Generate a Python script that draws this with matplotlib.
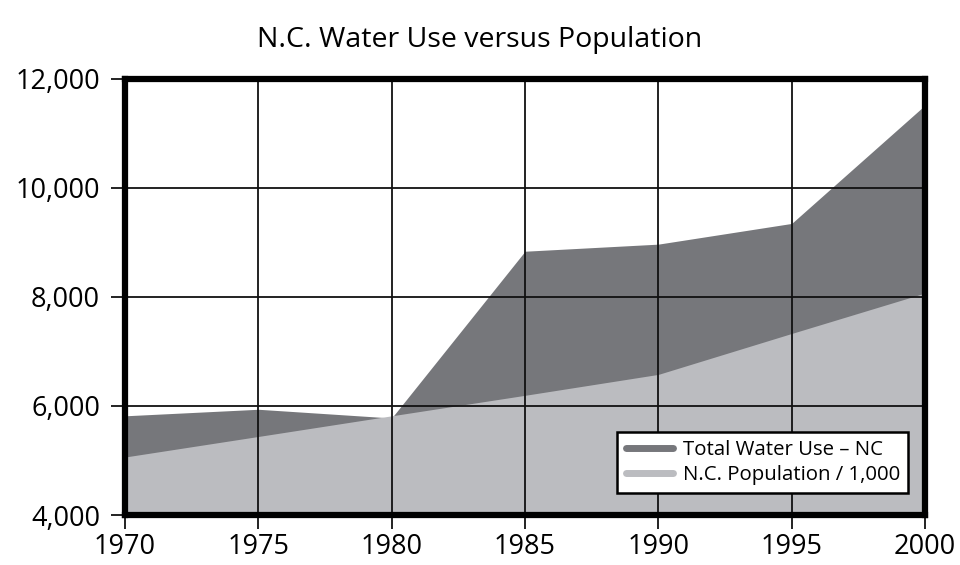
import matplotlib
matplotlib.use("Agg")
import matplotlib.pyplot as plt
from matplotlib.lines import Line2D

years = [1970, 1975, 1980, 1985, 1990, 1995, 2000]
water_use = [5820, 5940, 5780, 8840, 8970, 9350, 11520]
population = [5064, 5441, 5820, 6196, 6580, 7331, 8073]
yticks = [4000, 6000, 8000, 10000, 12000]
series_names = ["Total Water Use \u2013 NC", "N.C. Population / 1,000"]
title = "N.C. Water Use versus Population"

dark = "#76777b"
light = "#bbbcc0"

plt.rcParams['font.family'] = ['Open Sans', 'DejaVu Sans']

fig = plt.figure(figsize=(9.6, 5.65), dpi=100)
ax = fig.add_axes([125/960, 1 - 515/565, 800/960, 436/565])

ax.fill_between(years, 4000, water_use, color=dark, lw=0, zorder=1)
ax.fill_between(years, 4000, population, color=light, lw=0, zorder=2)

ax.set_xlim(1970, 2000)
ax.set_ylim(4000, 12000)
ax.set_xticks(years)
ax.set_yticks(yticks)
ax.set_yticklabels([f"{v:,}" for v in yticks])
ax.grid(True, color="#111111", lw=1.3, zorder=3)
ax.set_axisbelow(False)
for s in ax.spines.values():
    s.set_linewidth(4.5)
    s.set_color("black")
    s.set_zorder(5)
ax.tick_params(axis='both', labelsize=19.5, length=10, width=1.3, color="#111111")
ax.tick_params(axis='y', pad=8)
ax.tick_params(axis='x', pad=3)

handles = [Line2D([0], [0], color=dark, lw=5, solid_capstyle='round'),
           Line2D([0], [0], color=light, lw=5, solid_capstyle='round')]
leg = ax.legend(handles, series_names, loc='lower right', bbox_to_anchor=(0.979, 0.05),
                fontsize=14.7, frameon=True, fancybox=False, framealpha=1,
                edgecolor='black', handlelength=2.3, handletextpad=0.5,
                labelspacing=0.25, borderpad=0.4, borderaxespad=0)
leg.get_frame().set_linewidth(1.8)
leg.set_zorder(6)

fig.text(0.5, 1 - 40/565, title, ha='center', va='center', fontsize=20.5)

fig.savefig("out.png", dpi=100)
